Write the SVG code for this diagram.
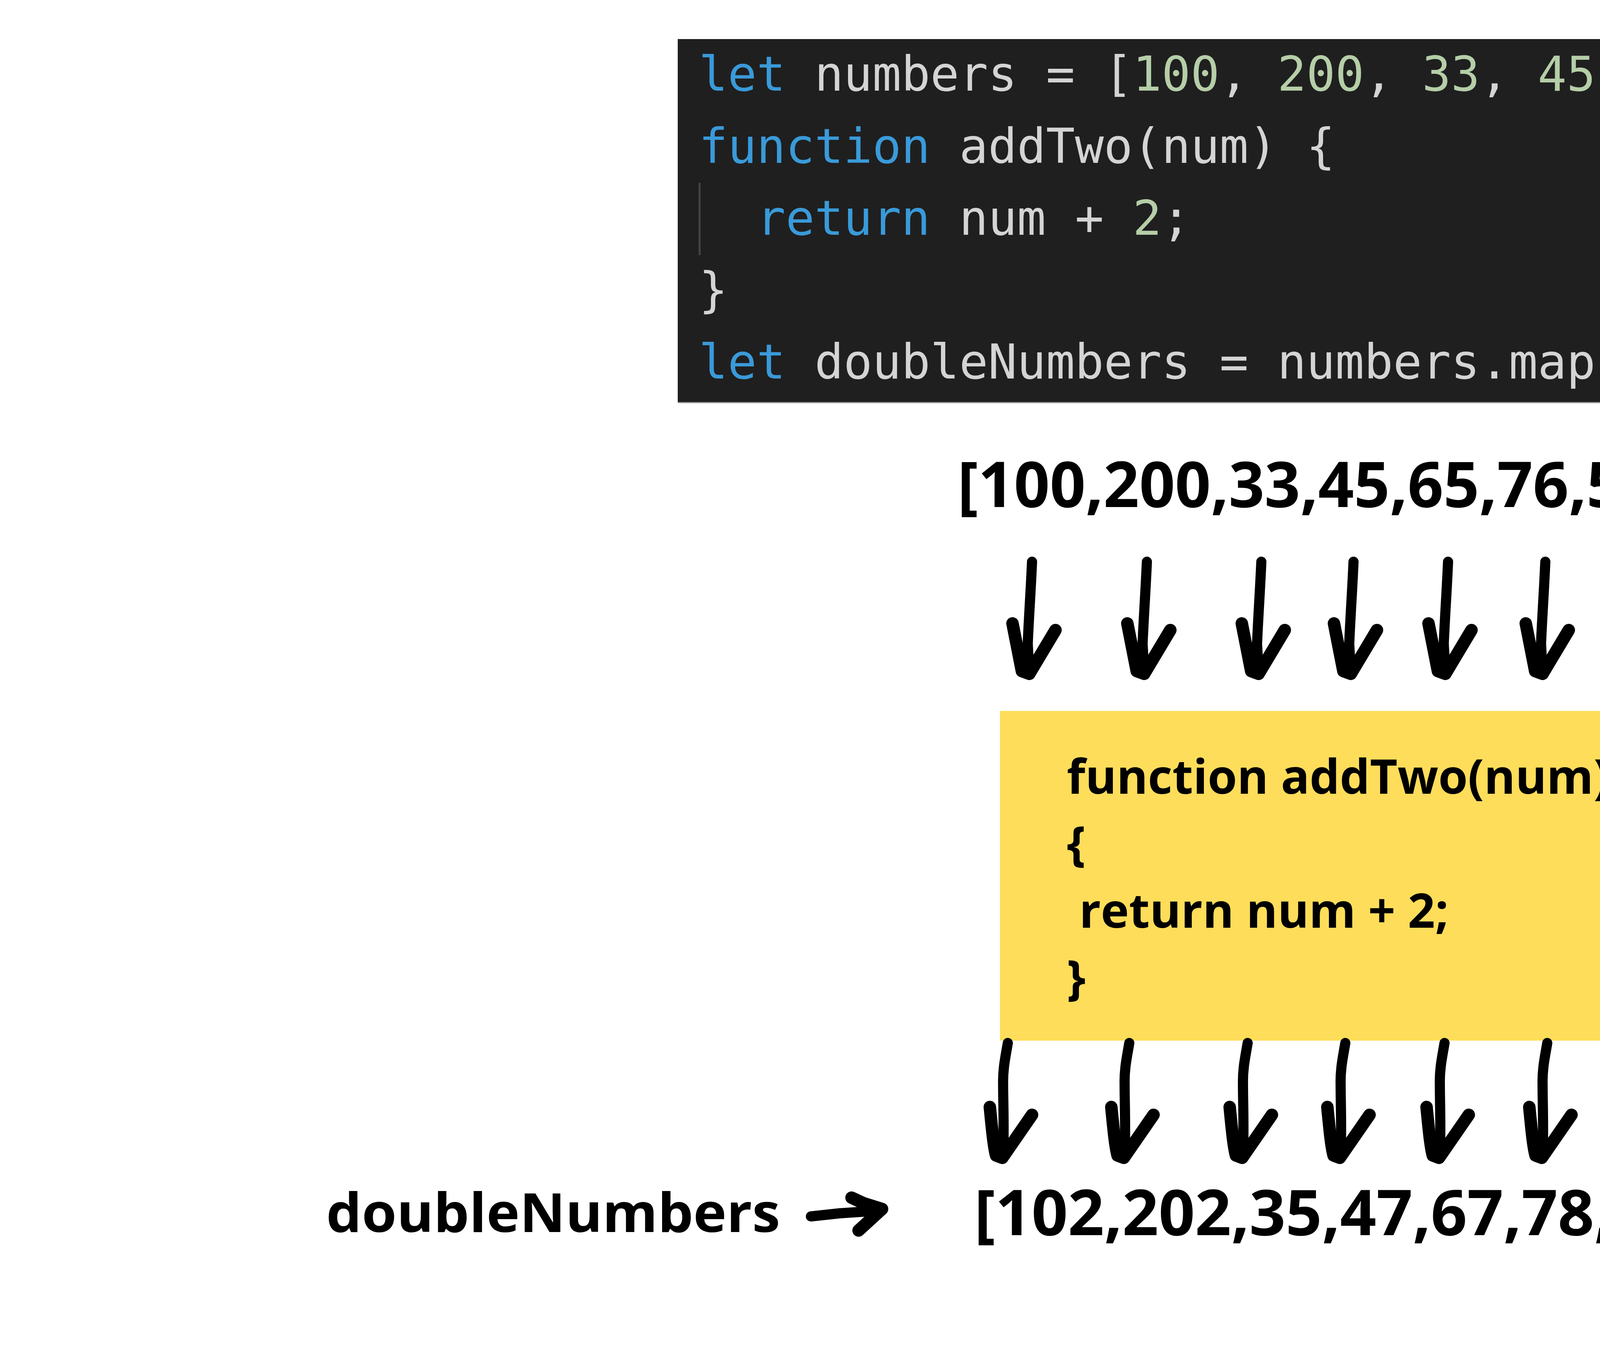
<svg xmlns="http://www.w3.org/2000/svg" width="6912" height="3456" viewBox="0 0 6912 3456">
<style>
.code{font-family:"DejaVu Sans Mono","Liberation Mono",monospace;font-size:123px;fill:#d4d4d4}
.kw{fill:#3a9ad9}
.num{fill:#b5cea8}
.lbl{font-family:"Open Sans","Liberation Sans",sans-serif;font-weight:700;fill:#000}
.shaft{fill:none;stroke:#000;stroke-width:26;stroke-linecap:round;stroke-linejoin:round}
.head{fill:none;stroke:#000;stroke-width:32;stroke-linecap:round;stroke-linejoin:round}
</style>
<defs>
<g id="arrTop">
<path class="shaft" d="M0,0 C-3,70 -8,140 -11,210 L-7,282" fill="none" stroke="#000" stroke-width="26" stroke-linecap="round"/>
<path class="head" d="M-50,158 L-26,280 L-7,287 L60,175" fill="none" stroke="#000" stroke-width="32" stroke-linecap="round" stroke-linejoin="round"/>
</g>
<g id="arrBot">
<path class="shaft" d="M0,4 C-6,40 -13,70 -12,110 C-12,160 -9,220 -12,296" fill="none" stroke="#000" stroke-width="28" stroke-linecap="round"/>
<path class="head" d="M-46,168 C-40,230 -36,270 -30,292 L-14,298 L62,188" fill="none" stroke="#000" stroke-width="34" stroke-linecap="round" stroke-linejoin="round"/>
</g>
</defs>
<rect width="6912" height="3456" fill="#fff"/>

<g id="code-block">
<rect x="1735" y="100" width="3442" height="932" fill="#1f1f1f"/>
<line x1="1735" y1="1031" x2="5177" y2="1031" stroke="#b0b0b0" stroke-width="3"/>
<line x1="1791" y1="468" x2="1791" y2="653" stroke="#444" stroke-width="5"/>
<text class="code" xml:space="preserve"><tspan x="1789" y="232"><tspan class="kw">let</tspan> numbers = [<tspan class="num">100</tspan>, <tspan class="num">200</tspan>, <tspan class="num">33</tspan>, <tspan class="num">45</tspan>, <tspan class="num">65</tspan>, <tspan class="num">76</tspan>, <tspan class="num">51</tspan>];</tspan><tspan x="1789" y="417"><tspan class="kw">function</tspan> addTwo(num) {</tspan><tspan x="1789" y="601">  <tspan class="kw">return</tspan> num + <tspan class="num">2</tspan>;</tspan><tspan x="1789" y="785">}</tspan><tspan x="1789" y="969"><tspan class="kw">let</tspan> doubleNumbers = numbers.map(addTwo);</tspan></text>
</g>

<g id="input-array">
<text class="lbl" x="2451" y="1298" font-size="162" textLength="1847" lengthAdjust="spacingAndGlyphs">[100,200,33,45,65,76,51]</text>
</g>

<g id="function-box">
<rect x="2560" y="1820" width="1696" height="844" fill="#fedd5a"/>
<text class="lbl" font-size="122" xml:space="preserve"><tspan x="2731" y="2032">function addTwo(num)</tspan><tspan x="2731" y="2203">{</tspan><tspan x="2731" y="2375"> return num + 2;</tspan><tspan x="2731" y="2546">}</tspan></text>
</g>

<g id="output-array">
<text class="lbl" x="2494" y="3162" font-size="162" textLength="1873" lengthAdjust="spacingAndGlyphs">[102,202,35,47,67,78,53]</text>
</g>

<g id="label-doubleNumbers">
<text class="lbl" x="835" y="3154" font-size="138" textLength="1162" lengthAdjust="spacingAndGlyphs">doubleNumbers</text>
</g>

<g id="connectors">
<use href="#arrTop" x="2642" y="1438"/>
<use href="#arrTop" x="2936" y="1438"/>
<use href="#arrTop" x="3229" y="1438"/>
<use href="#arrTop" x="3465" y="1438"/>
<use href="#arrTop" x="3707" y="1438"/>
<use href="#arrTop" x="3956" y="1438"/>
<use href="#arrTop" x="4202" y="1438"/>
<use href="#arrBot" x="2580" y="2666"/>
<use href="#arrBot" x="2891" y="2666"/>
<use href="#arrBot" x="3194" y="2666"/>
<use href="#arrBot" x="3444" y="2666"/>
<use href="#arrBot" x="3698" y="2666"/>
<use href="#arrBot" x="3961" y="2666"/>
<use href="#arrBot" x="4217" y="2666"/>
<path class="shaft" d="M2076,3114 L2150,3106 L2240,3100"/>
<path class="head" d="M2180,3066 L2210,3080 L2258,3095 L2198,3150"/>
</g>
</svg>
